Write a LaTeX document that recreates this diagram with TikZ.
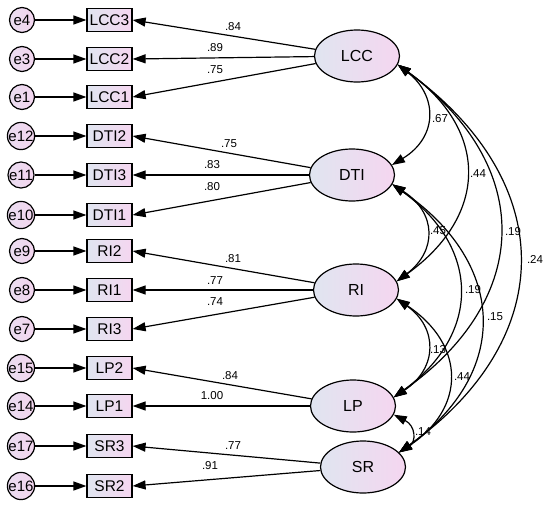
\documentclass[tikz,border=0pt]{standalone}
\usepackage{fontspec}
\setmainfont{Liberation Sans}
\usetikzlibrary{arrows.meta,shapes.geometric}
\definecolor{lblue}{HTML}{E0E5F0}
\definecolor{lpink}{HTML}{F5D6F0}
\definecolor{cpinkl}{HTML}{EADDF0}
\definecolor{cpinkr}{HTML}{F3D5EF}
\tikzset{
  errc/.style={circle,draw,line width=1.2pt,minimum size=25pt,inner sep=0pt,
    left color=cpinkl,right color=cpinkr,font=\fontsize{15}{16}\selectfont},
  obsbox/.style={rectangle,draw,line width=1.2pt,minimum width=45pt,minimum height=23pt,
    inner sep=0pt,left color=lblue,right color=lpink,font=\fontsize{15.5}{16}\selectfont},
  latent/.style={ellipse,draw,line width=1.2pt,minimum width=85pt,minimum height=52pt,
    inner sep=0pt,left color=lblue,right color=lpink,font=\fontsize{16}{18}\selectfont},
  arr/.style={line width=1.2pt,-{Triangle[length=13pt,width=9pt]}},
  cov/.style={line width=1.2pt,{Triangle[length=13pt,width=9pt]}-{Triangle[length=13pt,width=9pt]}},
  lab/.style={font=\fontsize{11.5}{13}\selectfont,inner sep=0pt}
}
\begin{document}
\begin{tikzpicture}[x=1pt,y=-1pt]
\useasboundingbox[fill=white] (0,0) rectangle (550,506);
% error circles
\node[errc] (e4)  at (22,20)  {e4};
\node[errc] (e3)  at (22,59)  {e3};
\node[errc] (e1)  at (22,97)  {e1};
\node[errc] (e12) at (21,136) {e12};
\node[errc] (e11) at (21,175) {e11};
\node[errc] (e10) at (21,215) {e10};
\node[errc] (e9)  at (22,251) {e9};
\node[errc] (e8)  at (22,290) {e8};
\node[errc] (e7)  at (22,329) {e7};
\node[errc] (e15) at (21,368) {e15};
\node[errc] (e14) at (21,406) {e14};
\node[errc] (e17) at (21,446) {e17};
\node[errc] (e16) at (21,486) {e16};
% observed boxes
\node[obsbox] (LCC3) at (109.5,20)  {LCC3};
\node[obsbox] (LCC2) at (109.5,59)  {LCC2};
\node[obsbox] (LCC1) at (109.5,97)  {LCC1};
\node[obsbox] (DTI2) at (109.5,136) {DTI2};
\node[obsbox] (DTI3) at (109.5,175) {DTI3};
\node[obsbox] (DTI1) at (109.5,215) {DTI1};
\node[obsbox] (RI2)  at (109.5,251) {RI2};
\node[obsbox] (RI1)  at (109.5,290) {RI1};
\node[obsbox] (RI3)  at (109.5,329) {RI3};
\node[obsbox] (LP2)  at (109.5,368) {LP2};
\node[obsbox] (LP1)  at (109.5,406) {LP1};
\node[obsbox] (SR3)  at (109.5,446) {SR3};
\node[obsbox] (SR2)  at (109.5,486) {SR2};
% latent ellipses
\node[latent] (LCC) at (357,56)  {LCC};
\node[latent] (DTI) at (352,175) {DTI};
\node[latent] (RI)  at (356,290) {RI};
\node[latent] (LP)  at (353,406) {LP};
\node[latent] (SR)  at (363,467) {SR};
% error arrows
\foreach \e/\b in {e4/LCC3,e3/LCC2,e1/LCC1,e12/DTI2,e11/DTI3,e10/DTI1,e9/RI2,e8/RI1,e7/RI3,e15/LP2,e14/LP1,e17/SR3,e16/SR2}
  \draw[arr] (\e) -- (\b.west);
% loadings
\foreach \l/\b in {LCC/LCC3,LCC/LCC2,LCC/LCC1,DTI/DTI2,DTI/DTI3,DTI/DTI1,RI/RI2,RI/RI1,RI/RI3,LP/LP2,LP/LP1,SR/SR3,SR/SR2}
  \draw[arr] (\l) -- (\b.east);
% loading labels
\node[lab] (a1) at (233,27)  {.84};
\node[lab] (a2) at (215,48)  {.89};
\node[lab] (a3) at (215,70)  {.75};
\node[lab] (b1) at (229,144) {.75};
\node[lab] (b2) at (212,165) {.83};
\node[lab] (b3) at (212,187) {.80};
\node[lab] (c1) at (233,259) {.81};
\node[lab] (c2) at (215,281) {.77};
\node[lab] (c3) at (215,302) {.74};
\node[lab] (d1) at (230,376) {.84};
\node[lab] (d2) at (212,396) {1.00};
\node[lab] (f1) at (233,446) {.77};
\node[lab] (f2) at (210,466) {.91};
% covariances
\draw[cov] (LCC.-12) .. controls (438,96)  and (438,137) .. (DTI.14);
\draw[cov] (LCC.-12) .. controls (489,130) and (489,215) .. (RI.12);
\draw[cov] (LCC.-12) .. controls (534,165) and (534,298) .. (LP.12);
\draw[cov] (LCC.-12) .. controls (559,182) and (559,338) .. (SR.22);
\draw[cov] (DTI.-13) .. controls (437,213) and (437,251) .. (RI.12);
\draw[cov] (DTI.-13) .. controls (481,248) and (481,334) .. (LP.12);
\draw[cov] (DTI.-13) .. controls (509,265) and (509,374) .. (SR.22);
\draw[cov] (RI.-12) .. controls (438,328) and (438,368) .. (LP.12);
\draw[cov] (RI.-12) .. controls (466,345) and (466,408) .. (SR.22);
\draw[cov] (LP.-12) .. controls (416,426) and (416,442) .. (SR.22);
% covariance labels
\node[lab] (k1)  at (440,119) {.67};
\node[lab] (k2)  at (478,174) {.44};
\node[lab] (k3)  at (513,232) {.19};
\node[lab] (k4)  at (535,259) {.24};
\node[lab] (k5)  at (438,231) {.45};
\node[lab] (k6)  at (473,290) {.19};
\node[lab] (k7)  at (495,317) {.15};
\node[lab] (k8)  at (438,350) {.13};
\node[lab] (k9)  at (462,377) {.44};
\node[lab] (k10) at (423,432) {.14};
\end{tikzpicture}
\end{document}
